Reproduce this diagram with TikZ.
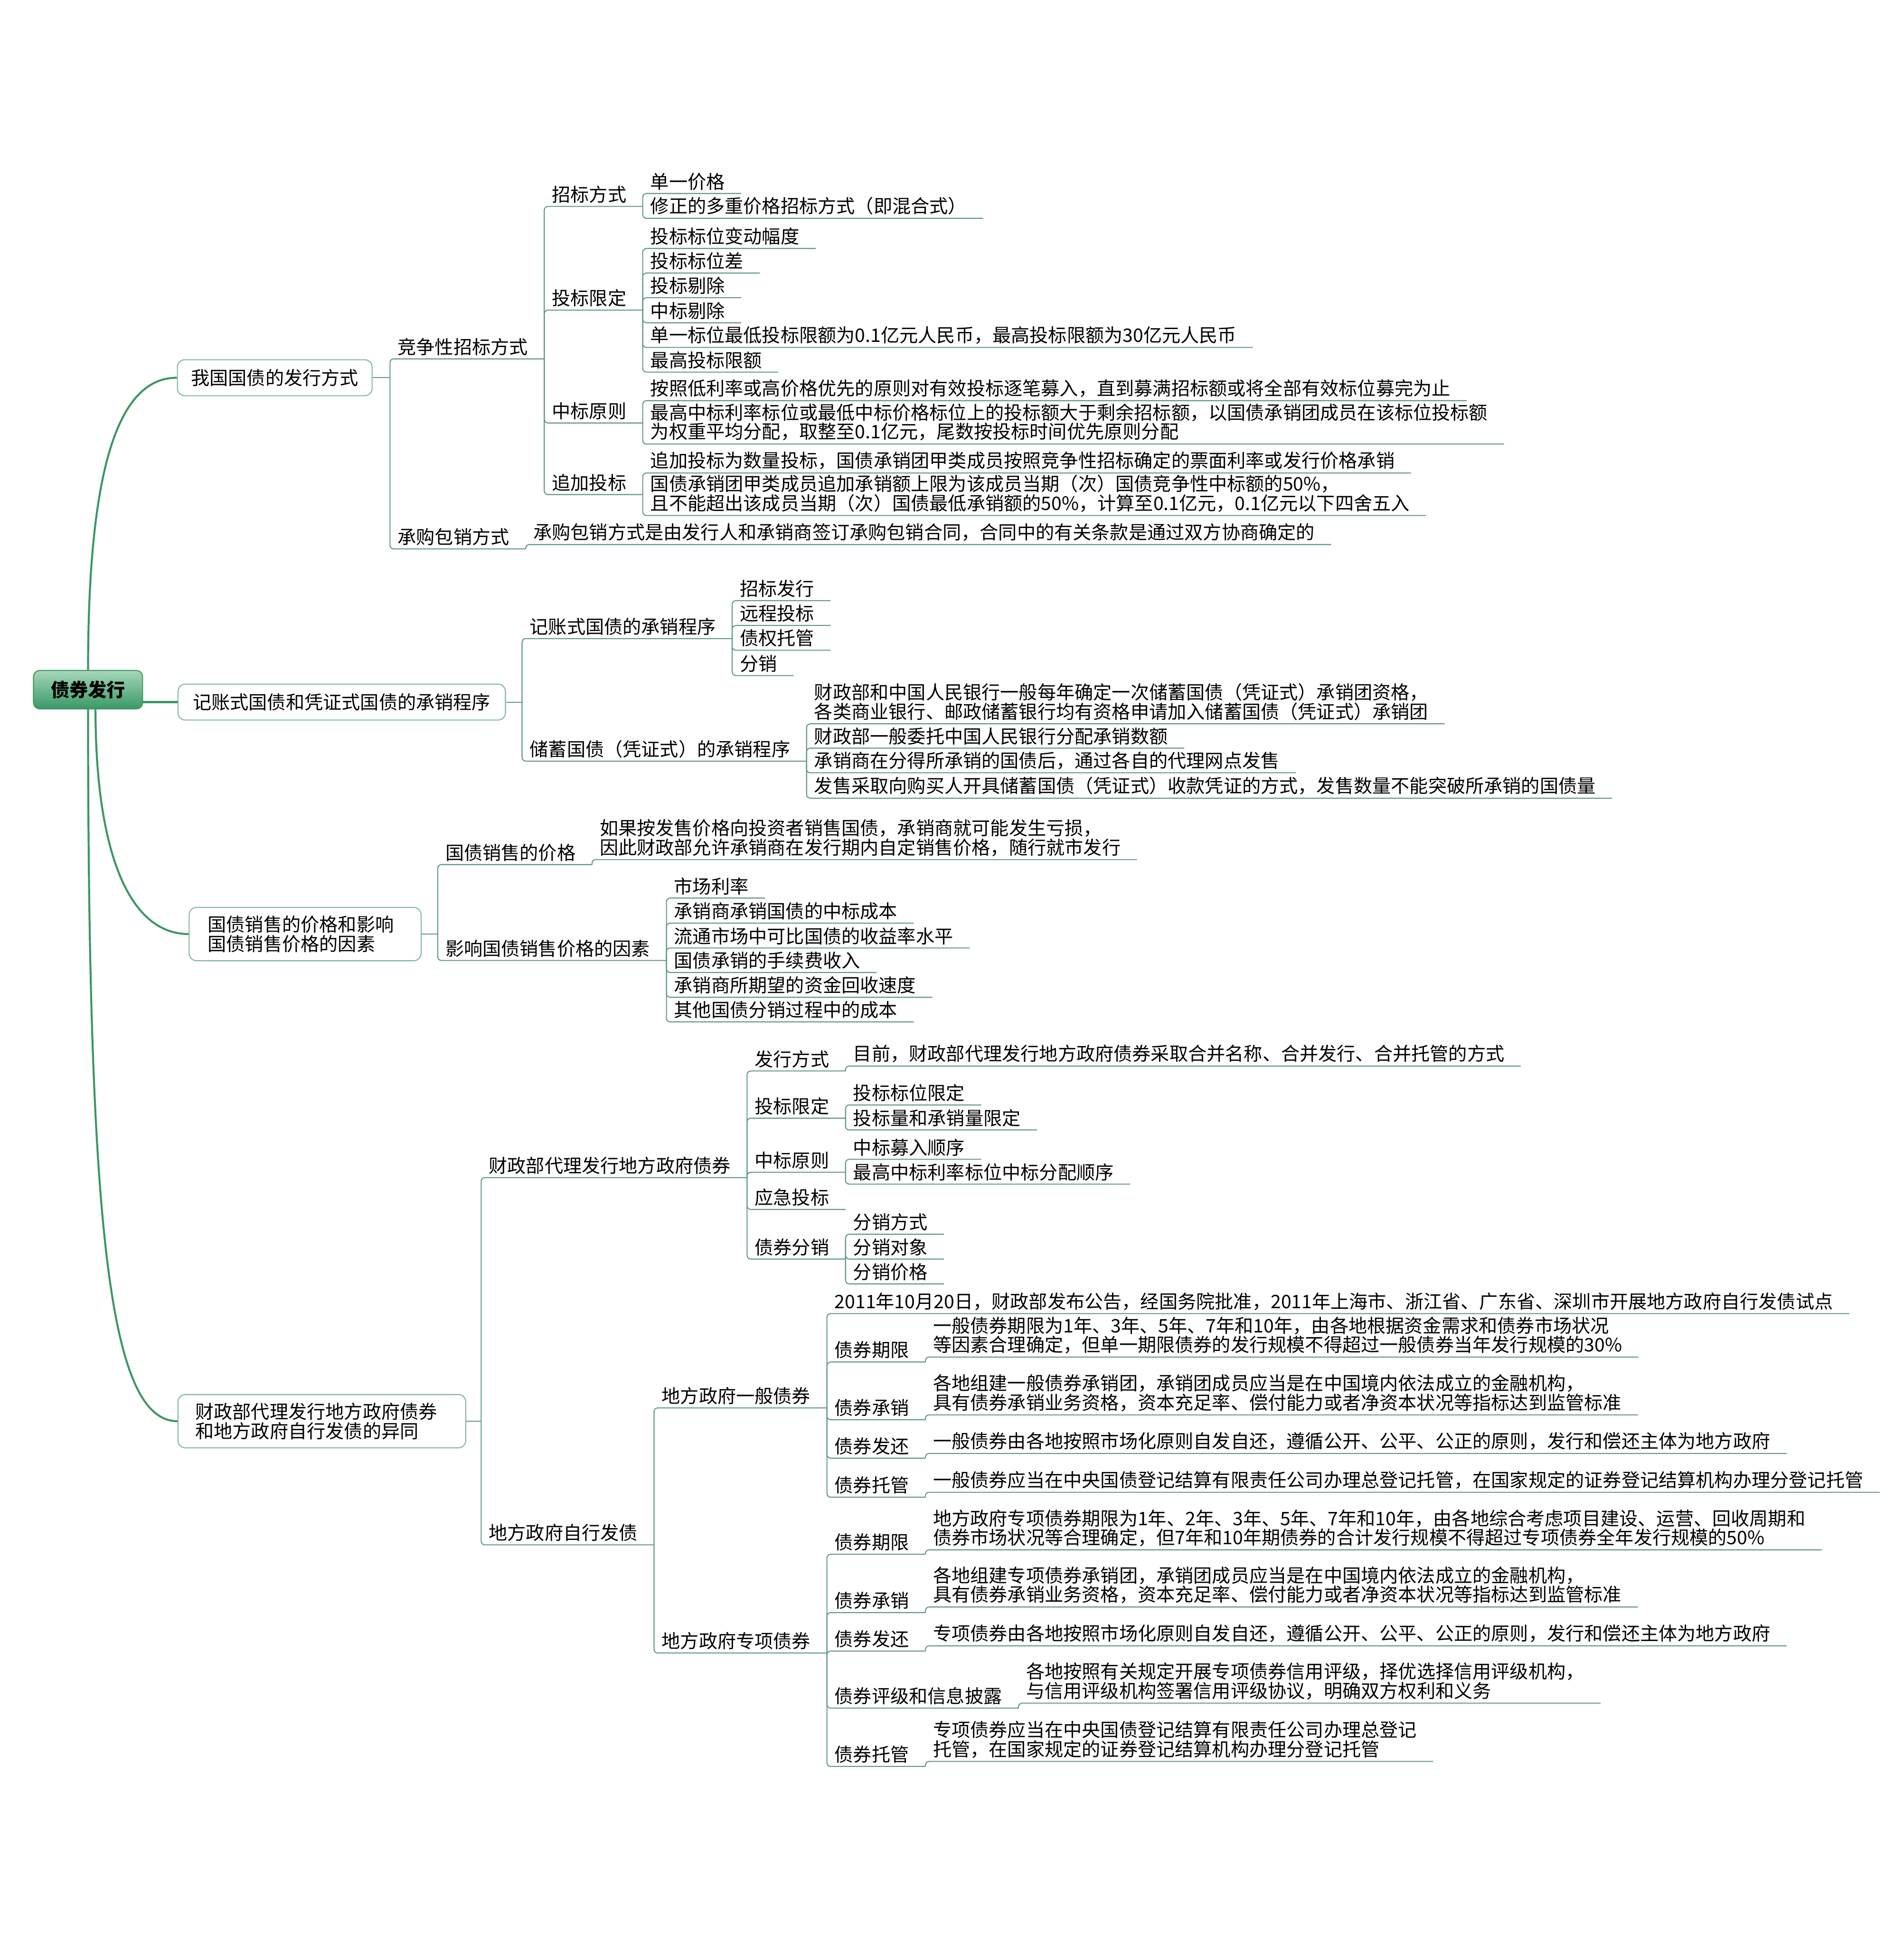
\documentclass[tikz,border=0pt]{standalone}
\usepackage{fontspec}
\newfontfamily\cjk{Noto Sans CJK SC}
\usetikzlibrary{positioning, calc}

\definecolor{rootline}{RGB}{60,150,102}
\definecolor{rootTop}{RGB}{165,215,185}
\definecolor{rootBot}{RGB}{58,152,102}
\definecolor{linkc}{RGB}{96,152,126}
\definecolor{boxline}{RGB}{128,182,155}

\begin{document}
\begin{tikzpicture}[
  x=1pt, y=-1pt,
  root/.style={rectangle, draw=rootline, line width=0.8pt, rounded corners=5pt,
               top color=rootTop, bottom color=rootBot,
               minimum width=88pt, minimum height=31pt,
               font=\cjk\bfseries\fontsize{15}{15.5}\selectfont},
  box/.style={rectangle, draw=boxline, line width=0.8pt, rounded corners=6pt,
              fill=white, inner xsep=11pt, minimum height=29pt, align=left,
              font=\cjk\fontsize{15}{15.5}\selectfont},
  topic/.style={anchor=south west, xshift=-7pt, inner xsep=13pt, inner ysep=2.5pt,
                align=left, font=\cjk\fontsize{15}{15.5}\selectfont},
  trunk/.style={draw=rootline, line width=1.6pt},
  link/.style={draw=linkc, line width=0.8pt, rounded corners=3pt},
]
\useasboundingbox (0,0) rectangle (1535,1568);

% ---- 中心主题 ----
\node[root] (root) at (71,556) {债券发行};

% ---- 一级主题 ----
\node[box] (sec-fx) at (221.5,304.5) {我国国债的发行方式};
\node[box, inner xsep=12pt] (sec-cx) at (275.5,566) {记账式国债和凭证式国债的承销程序};
\node[box, text width=157pt, inner xsep=15pt, minimum height=43pt] (sec-jg) at (246,753)
     {国债销售的价格和影响\\国债销售价格的因素};
\node[box, text width=204pt, inner xsep=14pt, minimum height=43pt] (sec-df) at (259.5,1145.7)
     {财政部代理发行地方政府债券\\和地方政府自行发债的异同};

\coordinate (fx-j) at ([xshift=14pt]sec-fx.east);
\coordinate (cx-j) at ([xshift=13pt]sec-cx.east);
\coordinate (jg-j) at ([xshift=13pt]sec-jg.east);
\coordinate (df-j) at ([xshift=12pt]sec-df.east);

% ---- 我国国债的发行方式 ----
\node[topic] (fx-jz)   at (fx-j |- 0,289.3) {竞争性招标方式};
\node[topic] (fx-cg)   at (fx-j |- 0,442.5) {承购包销方式};

\node[topic] (fx-zbfs) at (fx-jz.south east |- 0,166.4) {招标方式};
\node[topic] (fx-tbxd) at (fx-jz.south east |- 0,250)   {投标限定};
\node[topic] (fx-zbyz) at (fx-jz.south east |- 0,341)   {中标原则};
\node[topic] (fx-zjtb) at (fx-jz.south east |- 0,398.7) {追加投标};

\node[topic] (fx-zbfs1) at (fx-zbfs.south east |- 0,156) {单一价格};
\node[topic] (fx-zbfs2) at (fx-zbfs.south east |- 0,176) {修正的多重价格招标方式（即混合式）};

\node[topic] (fx-tbxd1) at (fx-tbxd.south east |- 0,200.3) {投标标位变动幅度};
\node[topic] (fx-tbxd2) at (fx-tbxd.south east |- 0,220.1) {投标标位差};
\node[topic] (fx-tbxd3) at (fx-tbxd.south east |- 0,240)   {投标剔除};
\node[topic] (fx-tbxd4) at (fx-tbxd.south east |- 0,260.2) {中标剔除};
\node[topic] (fx-tbxd5) at (fx-tbxd.south east |- 0,280.1)
     {单一标位最低投标限额为0.1亿元人民币，最高投标限额为30亿元人民币};
\node[topic] (fx-tbxd6) at (fx-tbxd.south east |- 0,300)   {最高投标限额};

\node[topic] (fx-zbyz1) at (fx-zbyz.south east |- 0,323)
     {按照低利率或高价格优先的原则对有效投标逐笔募入，直到募满招标额或将全部有效标位募完为止};
\node[topic] (fx-zbyz2) at (fx-zbyz.south east |- 0,358)
     {最高中标利率标位或最低中标价格标位上的投标额大于剩余招标额，以国债承销团成员在该标位投标额\\
      为权重平均分配，取整至0.1亿元，尾数按投标时间优先原则分配};

\node[topic] (fx-zjtb1) at (fx-zjtb.south east |- 0,381.3)
     {追加投标为数量投标，国债承销团甲类成员按照竞争性招标确定的票面利率或发行价格承销};
\node[topic] (fx-zjtb2) at (fx-zjtb.south east |- 0,415.6)
     {国债承销团甲类成员追加承销额上限为该成员当期（次）国债竞争性中标额的50\%，\\
      且不能超出该成员当期（次）国债最低承销额的50\%，计算至0.1亿元，0.1亿元以下四舍五入};

\node[topic] (fx-cg1) at (fx-cg.south east |- 0,439)
     {承购包销方式是由发行人和承销商签订承购包销合同，合同中的有关条款是通过双方协商确定的};

% ---- 承销程序 ----
\node[topic] (cx-jz) at (cx-j |- 0,514.8) {记账式国债的承销程序};
\node[topic] (cx-cx) at (cx-j |- 0,613.6) {储蓄国债（凭证式）的承销程序};

\node[topic] (cx-jz1) at (cx-jz.south east |- 0,484.2) {招标发行};
\node[topic] (cx-jz2) at (cx-jz.south east |- 0,504.2) {远程投标};
\node[topic] (cx-jz3) at (cx-jz.south east |- 0,524.2) {债权托管};
\node[topic] (cx-jz4) at (cx-jz.south east |- 0,544.6) {分销};

\node[topic] (cx-cx1) at (cx-cx.south east |- 0,583.5)
     {财政部和中国人民银行一般每年确定一次储蓄国债（凭证式）承销团资格，\\
      各类商业银行、邮政储蓄银行均有资格申请加入储蓄国债（凭证式）承销团};
\node[topic] (cx-cx2) at (cx-cx.south east |- 0,603.1) {财政部一般委托中国人民银行分配承销数额};
\node[topic] (cx-cx3) at (cx-cx.south east |- 0,623)   {承销商在分得所承销的国债后，通过各自的代理网点发售};
\node[topic] (cx-cx4) at (cx-cx.south east |- 0,643.5)
     {发售采取向购买人开具储蓄国债（凭证式）收款凭证的方式，发售数量不能突破所承销的国债量};

% ---- 销售价格 ----
\node[topic] (jg-jg) at (jg-j |- 0,697)   {国债销售的价格};
\node[topic] (jg-ys) at (jg-j |- 0,774.3) {影响国债销售价格的因素};

\node[topic] (jg-jg1) at (jg-jg.south east |- 0,693)
     {如果按发售价格向投资者销售国债，承销商就可能发生亏损，\\
      因此财政部允许承销商在发行期内自定销售价格，随行就市发行};

\node[topic] (jg-ys1) at (jg-ys.south east |- 0,724)   {市场利率};
\node[topic] (jg-ys2) at (jg-ys.south east |- 0,744.2) {承销商承销国债的中标成本};
\node[topic] (jg-ys3) at (jg-ys.south east |- 0,764.2) {流通市场中可比国债的收益率水平};
\node[topic] (jg-ys4) at (jg-ys.south east |- 0,784)   {国债承销的手续费收入};
\node[topic] (jg-ys5) at (jg-ys.south east |- 0,804)   {承销商所期望的资金回收速度};
\node[topic] (jg-ys6) at (jg-ys.south east |- 0,823.8) {其他国债分销过程中的成本};

% ---- 地方政府债券 ----
\node[topic] (df-dl) at (df-j |- 0,949.3)  {财政部代理发行地方政府债券};
\node[topic] (df-zx) at (df-j |- 0,1245.4) {地方政府自行发债};

\node[topic] (df-dl1) at (df-dl.south east |- 0,863.4) {发行方式};
\node[topic] (df-dl2) at (df-dl.south east |- 0,901.4) {投标限定};
\node[topic] (df-dl3) at (df-dl.south east |- 0,945)   {中标原则};
\node[topic] (df-dl4) at (df-dl.south east |- 0,975)   {应急投标};
\node[topic] (df-dl5) at (df-dl.south east |- 0,1015)  {债券分销};

\node[topic] (df-fx1) at (df-dl1.south east |- 0,859.4)
     {目前，财政部代理发行地方政府债券采取合并名称、合并发行、合并托管的方式};
\node[topic] (df-tb1) at (df-dl2.south east |- 0,890.8) {投标标位限定};
\node[topic] (df-tb2) at (df-dl2.south east |- 0,910.9) {投标量和承销量限定};
\node[topic] (df-zb1) at (df-dl3.south east |- 0,934.6) {中标募入顺序};
\node[topic] (df-zb2) at (df-dl3.south east |- 0,954.6) {最高中标利率标位中标分配顺序};
\node[topic] (df-fs1) at (df-dl5.south east |- 0,995)   {分销方式};
\node[topic] (df-fs2) at (df-dl5.south east |- 0,1015)  {分销对象};
\node[topic] (df-fs3) at (df-dl5.south east |- 0,1035)  {分销价格};

\node[topic] (df-yb) at (df-zx.south east |- 0,1135)   {地方政府一般债券};
\node[topic] (df-zh) at (df-zx.south east |- 0,1332.6) {地方政府专项债券};

\node[topic] (df-yb0) at (df-yb.south east |- 0,1059)
     {2011年10月20日，财政部发布公告，经国务院批准，2011年上海市、浙江省、广东省、深圳市开展地方政府自行发债试点};
\node[topic] (df-yb1) at (df-yb.south east |- 0,1098)   {债券期限};
\node[topic] (df-yb2) at (df-yb.south east |- 0,1144.5) {债券承销};
\node[topic] (df-yb3) at (df-yb.south east |- 0,1175.5) {债券发还};
\node[topic] (df-yb4) at (df-yb.south east |- 0,1207)   {债券托管};

\node[topic] (df-yb1a) at (df-yb1.south east |- 0,1094)
     {一般债券期限为1年、3年、5年、7年和10年，由各地根据资金需求和债券市场状况\\
      等因素合理确定，但单一期限债券的发行规模不得超过一般债券当年发行规模的30\%};
\node[topic] (df-yb2a) at (df-yb2.south east |- 0,1140.6)
     {各地组建一般债券承销团，承销团成员应当是在中国境内依法成立的金融机构，\\
      具有债券承销业务资格，资本充足率、偿付能力或者净资本状况等指标达到监管标准};
\node[topic] (df-yb3a) at (df-yb3.south east |- 0,1171.7)
     {一般债券由各地按照市场化原则自发自还，遵循公开、公平、公正的原则，发行和偿还主体为地方政府};
\node[topic] (df-yb4a) at (df-yb4.south east |- 0,1203)
     {一般债券应当在中央国债登记结算有限责任公司办理总登记托管，在国家规定的证券登记结算机构办理分登记托管};

\node[topic] (df-zh1) at (df-zh.south east |- 0,1253) {债券期限};
\node[topic] (df-zh2) at (df-zh.south east |- 0,1300) {债券承销};
\node[topic] (df-zh3) at (df-zh.south east |- 0,1331) {债券发还};
\node[topic] (df-zh4) at (df-zh.south east |- 0,1377) {债券评级和信息披露};
\node[topic] (df-zh5) at (df-zh.south east |- 0,1424) {债券托管};

\node[topic] (df-zh1a) at (df-zh1.south east |- 0,1249.4)
     {地方政府专项债券期限为1年、2年、3年、5年、7年和10年，由各地综合考虑项目建设、运营、回收周期和\\
      债券市场状况等合理确定，但7年和10年期债券的合计发行规模不得超过专项债券全年发行规模的50\%};
\node[topic] (df-zh2a) at (df-zh2.south east |- 0,1295.5)
     {各地组建专项债券承销团，承销团成员应当是在中国境内依法成立的金融机构，\\
      具有债券承销业务资格，资本充足率、偿付能力或者净资本状况等指标达到监管标准};
\node[topic] (df-zh3a) at (df-zh3.south east |- 0,1326.8)
     {专项债券由各地按照市场化原则自发自还，遵循公开、公平、公正的原则，发行和偿还主体为地方政府};
\node[topic] (df-zh4a) at (df-zh4.south east |- 0,1373)
     {各地按照有关规定开展专项债券信用评级，择优选择信用评级机构，\\
      与信用评级机构签署信用评级协议，明确双方权利和义务};
\node[topic] (df-zh5a) at (df-zh5.south east |- 0,1420)
     {专项债券应当在中央国债登记结算有限责任公司办理总登记\\
      托管，在国家规定的证券登记结算机构办理分登记托管};

% ---- 中心连线 ----
\draw[trunk] (root.north) .. controls +(0,-170) and +(-45,0) .. (sec-fx.west);
\draw[trunk] (sec-cx.west -| root.east) -- (sec-cx.west);
\draw[trunk] ([xshift=6pt]root.south) .. controls +(0,110) and +(-50,0) .. (sec-jg.west);
\draw[trunk] (root.south) .. controls +(0,420) and +(-55,0) .. (sec-df.west);

% ---- 分支连线 ----
\draw[link] (sec-fx.east) -- (fx-j);
\draw[link] (sec-cx.east) -- (cx-j);
\draw[link] (sec-jg.east) -- (jg-j);
\draw[link] (sec-df.east) -- (df-j);

\draw[link] (fx-j) |- (fx-jz.south east);
\draw[link] (fx-j) |- (fx-cg.south east);
\draw[link] (fx-jz.south east) |- (fx-zbfs.south east);
\draw[link] (fx-jz.south east) |- (fx-tbxd.south east);
\draw[link] (fx-jz.south east) |- (fx-zbyz.south east);
\draw[link] (fx-jz.south east) |- (fx-zjtb.south east);
\draw[link] (fx-zbfs.south east) |- (fx-zbfs1.south east);
\draw[link] (fx-zbfs.south east) |- (fx-zbfs2.south east);
\draw[link] (fx-tbxd.south east) |- (fx-tbxd1.south east);
\draw[link] (fx-tbxd.south east) |- (fx-tbxd2.south east);
\draw[link] (fx-tbxd.south east) |- (fx-tbxd3.south east);
\draw[link] (fx-tbxd.south east) |- (fx-tbxd4.south east);
\draw[link] (fx-tbxd.south east) |- (fx-tbxd5.south east);
\draw[link] (fx-tbxd.south east) |- (fx-tbxd6.south east);
\draw[link] (fx-zbyz.south east) |- (fx-zbyz1.south east);
\draw[link] (fx-zbyz.south east) |- (fx-zbyz2.south east);
\draw[link] (fx-zjtb.south east) |- (fx-zjtb1.south east);
\draw[link] (fx-zjtb.south east) |- (fx-zjtb2.south east);
\draw[link] (fx-cg.south east) |- (fx-cg1.south east);

\draw[link] (cx-j) |- (cx-jz.south east);
\draw[link] (cx-j) |- (cx-cx.south east);
\draw[link] (cx-jz.south east) |- (cx-jz1.south east);
\draw[link] (cx-jz.south east) |- (cx-jz2.south east);
\draw[link] (cx-jz.south east) |- (cx-jz3.south east);
\draw[link] (cx-jz.south east) |- (cx-jz4.south east);
\draw[link] (cx-cx.south east) |- (cx-cx1.south east);
\draw[link] (cx-cx.south east) |- (cx-cx2.south east);
\draw[link] (cx-cx.south east) |- (cx-cx3.south east);
\draw[link] (cx-cx.south east) |- (cx-cx4.south east);

\draw[link] (jg-j) |- (jg-jg.south east);
\draw[link] (jg-j) |- (jg-ys.south east);
\draw[link] (jg-jg.south east) |- (jg-jg1.south east);
\draw[link] (jg-ys.south east) |- (jg-ys1.south east);
\draw[link] (jg-ys.south east) |- (jg-ys2.south east);
\draw[link] (jg-ys.south east) |- (jg-ys3.south east);
\draw[link] (jg-ys.south east) |- (jg-ys4.south east);
\draw[link] (jg-ys.south east) |- (jg-ys5.south east);
\draw[link] (jg-ys.south east) |- (jg-ys6.south east);

\draw[link] (df-j) |- (df-dl.south east);
\draw[link] (df-j) |- (df-zx.south east);
\draw[link] (df-dl.south east) |- (df-dl1.south east);
\draw[link] (df-dl.south east) |- (df-dl2.south east);
\draw[link] (df-dl.south east) |- (df-dl3.south east);
\draw[link] (df-dl.south east) |- (df-dl4.south east);
\draw[link] (df-dl.south east) |- (df-dl5.south east);
\draw[link] (df-dl1.south east) |- (df-fx1.south east);
\draw[link] (df-dl2.south east) |- (df-tb1.south east);
\draw[link] (df-dl2.south east) |- (df-tb2.south east);
\draw[link] (df-dl3.south east) |- (df-zb1.south east);
\draw[link] (df-dl3.south east) |- (df-zb2.south east);
\draw[link] (df-dl5.south east) |- (df-fs1.south east);
\draw[link] (df-dl5.south east) |- (df-fs2.south east);
\draw[link] (df-dl5.south east) |- (df-fs3.south east);

\draw[link] (df-zx.south east) |- (df-yb.south east);
\draw[link] (df-zx.south east) |- (df-zh.south east);
\draw[link] (df-yb.south east) |- (df-yb0.south east);
\draw[link] (df-yb.south east) |- (df-yb1.south east);
\draw[link] (df-yb.south east) |- (df-yb2.south east);
\draw[link] (df-yb.south east) |- (df-yb3.south east);
\draw[link] (df-yb.south east) |- (df-yb4.south east);
\draw[link] (df-yb1.south east) |- (df-yb1a.south east);
\draw[link] (df-yb2.south east) |- (df-yb2a.south east);
\draw[link] (df-yb3.south east) |- (df-yb3a.south east);
\draw[link] (df-yb4.south east) |- (df-yb4a.south east);
\draw[link] (df-zh.south east) |- (df-zh1.south east);
\draw[link] (df-zh.south east) |- (df-zh2.south east);
\draw[link] (df-zh.south east) |- (df-zh3.south east);
\draw[link] (df-zh.south east) |- (df-zh4.south east);
\draw[link] (df-zh.south east) |- (df-zh5.south east);
\draw[link] (df-zh1.south east) |- (df-zh1a.south east);
\draw[link] (df-zh2.south east) |- (df-zh2a.south east);
\draw[link] (df-zh3.south east) |- (df-zh3a.south east);
\draw[link] (df-zh4.south east) |- (df-zh4a.south east);
\draw[link] (df-zh5.south east) |- (df-zh5a.south east);

\end{tikzpicture}
\end{document}
